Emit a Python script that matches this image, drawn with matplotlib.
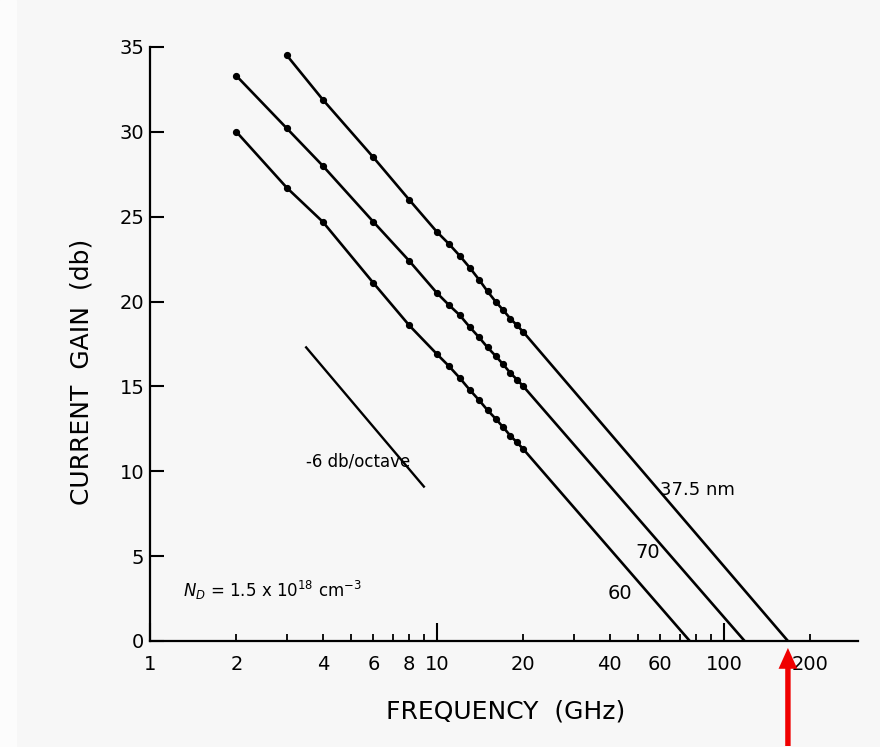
import numpy as np
import matplotlib.pyplot as plt
from matplotlib.patches import Rectangle

# current gain vs frequency, three gate lengths
freq_a = [3, 4, 6, 8, 10, 11, 12, 13, 14, 15, 16, 17, 18, 19, 20]
gain_a = [34.5, 31.9, 28.5, 26.0, 24.1, 23.4, 22.7, 22.0, 21.3, 20.6, 20.0, 19.5, 19.0, 18.6, 18.2]
freq_b = [2, 3, 4, 6, 8, 10, 11, 12, 13, 14, 15, 16, 17, 18, 19, 20]
gain_b = [33.3, 30.2, 28.0, 24.7, 22.4, 20.5, 19.8, 19.2, 18.5, 17.9, 17.3, 16.8, 16.3, 15.8, 15.4, 15.0]
freq_c = [2, 3, 4, 6, 8, 10, 11, 12, 13, 14, 15, 16, 17, 18, 19, 20]
gain_c = [30.0, 26.7, 24.7, 21.1, 18.6, 16.9, 16.2, 15.5, 14.8, 14.2, 13.6, 13.1, 12.6, 12.1, 11.7, 11.3]
# extrapolated unity-gain frequencies (GHz)
ft_a, ft_b, ft_c = 167, 118, 76
# -6 db/octave reference line
slope_f = [3.5, 9.0]
slope_g = [17.3, 9.1]

major_x = [1, 10, 100]
minor_x = [2, 3, 4, 5, 6, 7, 8, 9, 20, 30, 40, 50, 60, 70, 80, 90, 200]
minor_lbl = ['2', '', '4', '', '6', '', '8', '', '20', '', '40', '', '60', '', '', '', '200']
y_ticks = [0, 5, 10, 15, 20, 25, 30, 35]

plt.rcParams['font.family'] = 'DejaVu Sans'

fig = plt.figure(figsize=(8.8, 7.47), dpi=100, facecolor='#f7f7f7')
fig.patches.append(Rectangle((0, 0), 16 / 880, 1, transform=fig.transFigure,
                             color='#fcfcfc', zorder=-1))
ax = fig.add_axes([150 / 880, 1 - 641 / 747, 708 / 880, 594 / 747])
ax.set_facecolor('none')
ax.set_xscale('log')
ax.set_xlim(1, 293)
ax.set_ylim(0, 35)

for f, g, ft in [(freq_a, gain_a, ft_a), (freq_b, gain_b, ft_b), (freq_c, gain_c, ft_c)]:
    # measured points, then extrapolated down to unity gain
    ax.plot(list(f) + [ft], list(g) + [0], color='black', lw=1.9,
            solid_capstyle='round', solid_joinstyle='round')
    ax.plot(f, g, 'o', color='black', ms=4.2)

ax.plot(slope_f, slope_g, color='black', lw=1.7)

# spines / ticks
for s in ['top', 'right']:
    ax.spines[s].set_visible(False)
for s in ['left', 'bottom']:
    ax.spines[s].set_linewidth(1.6)

ax.set_yticks(y_ticks)
ax.set_xticks(major_x)
ax.set_xticklabels([str(v) for v in major_x])
ax.set_xticks(minor_x, minor=True)
ax.set_xticklabels(minor_lbl, minor=True)
ax.tick_params(axis='y', direction='in', length=10, width=1.5, labelsize=14, pad=4)
ax.tick_params(axis='x', which='major', direction='in', length=13, width=1.5, labelsize=14, pad=10)
ax.tick_params(axis='x', which='minor', direction='in', length=5, width=1.3, labelsize=14, pad=10)

# labels
fig.text(82 / 880, 1 - 372 / 747, 'CURRENT  GAIN  (db)', rotation=90,
         ha='center', va='center', fontsize=18)
fig.text(506 / 880, 1 - 712 / 747, 'FREQUENCY  (GHz)', ha='center', va='center', fontsize=18)

ax.text(81, 8.9, '37.5 nm', ha='center', va='center', fontsize=13)
ax.text(54, 5.2, '70', ha='center', va='center', fontsize=14)
ax.text(43.4, 2.8, '60', ha='center', va='center', fontsize=14)
ax.text(5.3, 10.6, '-6 db/octave', ha='center', va='center', fontsize=12)
ax.text(1.3, 3.0, r'$N_D$ = 1.5 x 10$^{18}$ cm$^{-3}$', ha='left', va='center', fontsize=12)

# red arrow marking f_T of the 37.5 nm device
ax.annotate('', xy=(ft_a, 0), xytext=(0, -105), textcoords='offset pixels',
            annotation_clip=False,
            arrowprops=dict(arrowstyle='simple,head_length=0.5,head_width=0.45,tail_width=0.13',
                            mutation_scale=30, fc='#f00000', ec='#f00000', lw=0,
                            shrinkA=0, shrinkB=5))

fig.savefig('out.png', dpi=100, facecolor=fig.get_facecolor())
